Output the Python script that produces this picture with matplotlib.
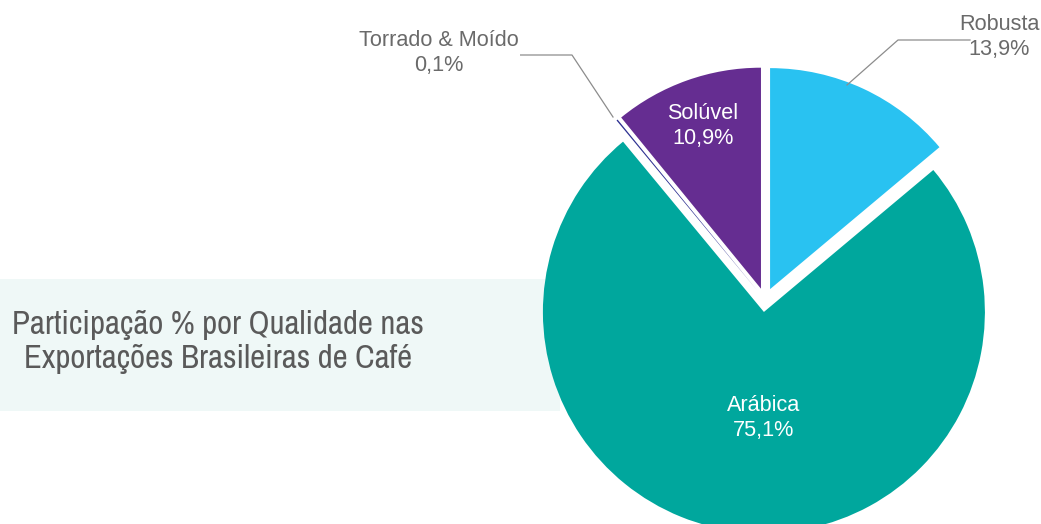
import matplotlib
matplotlib.use("Agg")
import matplotlib.pyplot as plt
from matplotlib import font_manager
from matplotlib.patches import Rectangle

# ---- data ----
categories = ["Robusta", "Arábica", "Torrado & Moído", "Solúvel"]
shares = [13.9, 75.1, 0.1, 10.9]
value_labels = ["13,9%", "75,1%", "0,1%", "10,9%"]
colors = ["#29C2F1", "#00A79D", "#2E3192", "#652D91"]
title_lines = ["Participação % por Qualidade nas", "Exportações Brasileiras de Café"]

W, H = 1041, 524
fig = plt.figure(figsize=(W / 100, H / 100), dpi=100)
ax = fig.add_axes([0, 0, 1, 1])

names = sorted({f.name for f in font_manager.fontManager.ttflist})
narrow_candidates = [n for n in names if ("Narrow" in n or "Condensed" in n)]
title_family = narrow_candidates[0] if narrow_candidates else "Liberation Sans"
sans = "Liberation Sans"

def Y(py):
    return H - py

# title background band
ax.add_patch(Rectangle((0, Y(411)), 560, 132, facecolor="#EFF8F7", edgecolor="none", zorder=0))

# pie
cx, cy, r = 765, Y(300), 221
explode = [12] * len(shares)
wedges, _ = ax.pie(shares, colors=colors, startangle=90, counterclock=False,
                   center=(cx, cy), radius=r, explode=explode,
                   wedgeprops=dict(linewidth=0), frame=True)
for w in wedges:
    w.set_zorder(2)
ax.set_xlim(0, W)
ax.set_ylim(0, H)
ax.set_aspect("equal")
ax.axis("off")

fs = 15.6
# inside labels
ax.text(703, Y(126), f"{categories[3]}\n{value_labels[3]}", ha="center", va="center",
        color="white", fontsize=fs, family=sans, linespacing=1.2, zorder=3)
ax.text(764, Y(418), f"{categories[1]}\n{value_labels[1]}", ha="center", va="center",
        color="white", fontsize=fs, family=sans, linespacing=1.2, zorder=3)

# outside labels with leader lines
grey = "#6A6A6A"
ax.plot([847, 898, 970], [Y(85), Y(40), Y(40)], color="#8C8C8C", lw=0.9, zorder=3)
ax.text(999, Y(37), f"{categories[0]}\n{value_labels[0]}", ha="center", va="center",
        color=grey, fontsize=fs, family=sans, linespacing=1.2, zorder=4)
ax.plot([500, 572, 613], [Y(55), Y(55), Y(117)], color="#8C8C8C", lw=0.9, zorder=3)
ax.text(439, Y(53), f"{categories[2]}\n{value_labels[2]}", ha="center", va="center",
        color=grey, fontsize=fs, family=sans, linespacing=1.2, zorder=4,
        bbox=dict(facecolor="white", edgecolor="none", pad=1))

# title, sized so the first line spans ~412 px like the reference
t = ax.text(218, Y(342), "\n".join(title_lines), ha="center", va="center",
            color="#5A5A5A", fontsize=20, family=title_family, linespacing=1.2, zorder=4)
fig.canvas.draw()
probe = ax.text(0, 0, title_lines[0], fontsize=20, family=title_family)
wpx = probe.get_window_extent(fig.canvas.get_renderer()).width
probe.remove()
t.set_fontsize(20 * 412 / wpx)

fig.savefig("out.png", dpi=100, facecolor="white")
